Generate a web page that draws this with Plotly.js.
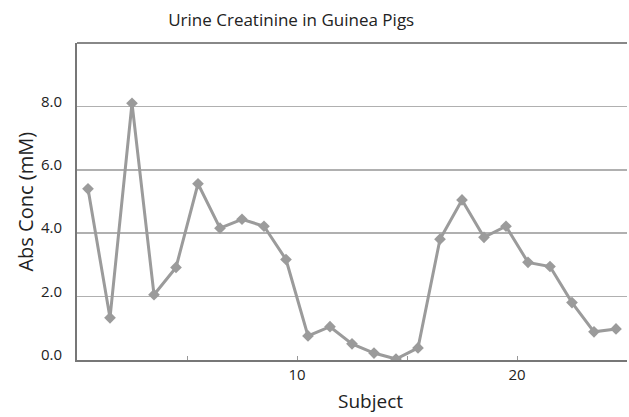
<!DOCTYPE html>
<html>
<head>
<meta charset="utf-8">
<script src="https://cdn.plot.ly/plotly-3.0.1.min.js"></script>
<style>html,body{margin:0;padding:0;background:#fff;}#chart{width:629px;height:417px;}</style>
</head>
<body>
<div id="chart"></div>
<script>
const subjects = [0.5,1.5,2.5,3.5,4.5,5.5,6.5,7.5,8.5,9.5,10.5,11.5,12.5,13.5,14.5,15.5,16.5,17.5,18.5,19.5,20.5,21.5,22.5,23.5,24.5];
const absConc = [5.4,1.33,8.1,2.06,2.92,5.56,4.16,4.44,4.22,3.17,0.76,1.05,0.51,0.22,0.03,0.38,3.81,5.05,3.87,4.22,3.08,2.95,1.81,0.89,0.98];
const xTickVals = [5,10,15,20];
const xTickText = ['','10','','20'];
const yTickVals = [0,2,4,6,8];
const yTickText = ['0.0','2.0','4.0','6.0','8.0'];
const titleText = 'Urine Creatinine in Guinea Pigs';
const xTitle = 'Subject';
const yTitle = 'Abs Conc (mM)';

const font = 'Open Sans, Lato, sans-serif';
const trace = {
  x: subjects, y: absConc, type: 'scatter', mode: 'lines+markers',
  line: {color: '#9b9b9b', width: 3},
  marker: {symbol: 'diamond', size: 9, color: '#9b9b9b'},
  hoverinfo: 'skip'
};
const layout = {
  width: 629, height: 417,
  margin: {l: 77, r: 2, t: 43, b: 57},
  paper_bgcolor: '#fff', plot_bgcolor: '#fff',
  showlegend: false,
  font: {family: font, color: '#222'},
  title: {text: titleText, x: 0.463, xanchor: 'center', y: 0.952, yanchor: 'middle', font: {size: 17, family: font, color: '#222'}},
  xaxis: {
    range: [0, 25], tickvals: xTickVals, ticktext: xTickText,
    ticks: 'inside', ticklen: 4, tickcolor: '#999', tickwidth: 1,
    showgrid: false, zeroline: false,
    showline: true, linecolor: '#777', linewidth: 2,
    tickfont: {size: 15, family: font, color: '#222'}
  },
  yaxis: {
    range: [0, 10], tickvals: yTickVals, ticktext: yTickText,
    ticks: '', showgrid: true, gridcolor: '#b0b0b0', gridwidth: 1.5,
    zeroline: false, showline: true, linecolor: '#777', linewidth: 2,
    ticklabelstandoff: 10, ticklabelshift: -5,
    tickfont: {size: 15, family: font, color: '#222'}
  },
  annotations: [
    {text: xTitle, xref: 'paper', yref: 'paper', x: 0.533, y: -0.13, xanchor: 'center', yanchor: 'middle', showarrow: false, font: {size: 19, family: font, color: '#222'}},
    {text: yTitle, xref: 'paper', yref: 'paper', x: -0.0945, y: 0.5, xanchor: 'center', yanchor: 'middle', textangle: -90, showarrow: false, font: {size: 20, family: font, color: '#222'}}
  ],
  shapes: [
    {type: 'line', xref: 'paper', yref: 'paper', x0: 0, x1: 1, y0: 1, y1: 1, line: {color: '#888', width: 2}}
  ]
};
Plotly.newPlot('chart', [trace], layout, {displayModeBar: false, staticPlot: true});
</script>
</body>
</html>
